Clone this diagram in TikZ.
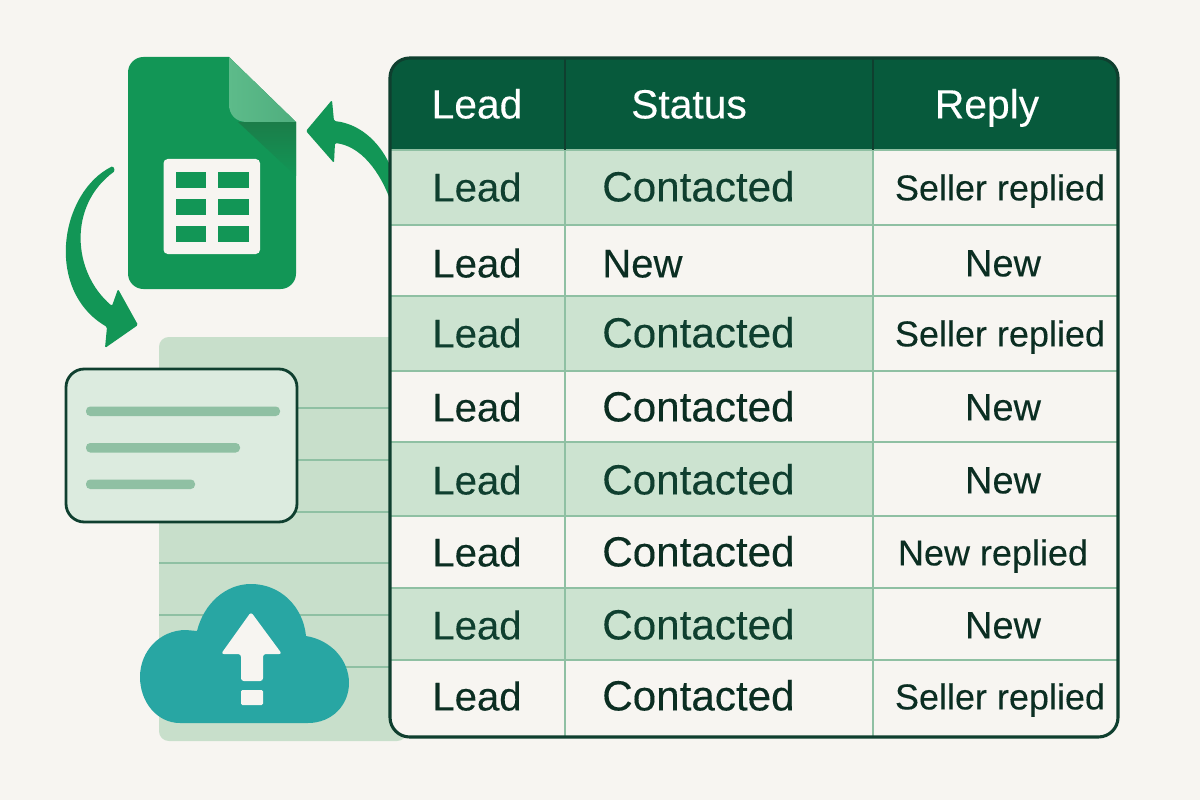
\documentclass[tikz,border=0pt]{standalone}
\usepackage{fontspec}
\setmainfont{Liberation Sans}[FakeBold=0.25]
\usetikzlibrary{calc}
\definecolor{paper}{HTML}{F7F5F1}
\definecolor{sheetgreen}{HTML}{129656}
\definecolor{foldleft}{HTML}{5DBB8A}
\definecolor{foldright}{HTML}{4FAE7E}
\definecolor{foldshade}{HTML}{1B7D49}
\definecolor{headgreen}{HTML}{075A3C}
\definecolor{inkgreen}{HTML}{0F3F2F}
\definecolor{inkdark}{HTML}{0B2E22}
\definecolor{tint}{HTML}{CCE3D0}
\definecolor{panelgreen}{HTML}{C8DFCB}
\definecolor{cardgreen}{HTML}{DCEBDF}
\definecolor{rulegreen}{HTML}{8FC0A3}
\definecolor{cloudteal}{HTML}{28A6A3}
\tikzset{
  headcell/.style={text=white, font=\fontsize{29}{32}\selectfont, inner sep=0pt, text height=20.5pt, text depth=0pt},
  bodycell/.style={font=\fontsize{28.5}{32}\selectfont, inner sep=0pt, text height=20.5pt, text depth=0pt},
  statuscell/.style={font=\fontsize{#1}{32}\selectfont, anchor=west, inner sep=0pt, text height=20.5pt, text depth=0pt},
  replycell/.style={text=inkdark, font=\fontsize{#1}{30}\selectfont, inner sep=0pt, text height=19pt, text depth=0pt},
  gridline/.style={draw=rulegreen, line width=1.8pt},
  cardbar/.style={fill=rulegreen, rounded corners=3pt}
}
\begin{document}
\begin{tikzpicture}[x=0.025cm,y=-0.025cm]
\useasboundingbox (0,0) rectangle (1200,800);
\fill[paper] (0,0) rectangle (1200,800);
% panel behind the table
\fill[panelgreen, rounded corners=7pt] (159,337) rectangle (407,741);
\foreach \y in {408,460,512,563,615,667}
  \draw[rulegreen, line width=1.8pt] (159,\y) -- (400,\y);
% sheet icon
\fill[sheetgreen] (229,57) [rounded corners=11pt] -- (128,57) -- (128,289) -- (296,289) -- (296,200) [sharp corners] -- (296,122) -- cycle;
\shade[top color=foldshade, bottom color=sheetgreen] (238,122) -- (296,122) -- (296,176) -- cycle;
\shade[left color=foldleft, right color=foldright] (229,57) -- (296,122) -- (247,122) .. controls (236,122) and (229,115) .. (229,104) -- cycle;
\fill[paper, rounded corners=3pt] (163.5,159) rectangle (260,254);
\foreach \y/\h in {172/16,199/16,226/16}
  \foreach \x/\w in {176/30,218/31}
    \fill[sheetgreen] (\x,\y) rectangle ++(\w,\h);
% curved arrows
\fill[sheetgreen, rounded corners=1pt] (113,166) .. controls (60,192) and (44,290) .. (107,327)
  -- (105,348) -- (138,325) -- (118,289) -- (112,306)
  .. controls (72,272) and (68,205) .. (115,171) -- cycle;
\fill[sheetgreen, rounded corners=1pt] (306,131) -- (332,100) -- (334,121)
  .. controls (362,124) and (382,145) .. (392,170) -- (392,205)
  .. controls (380,170) and (360,146) .. (335,143) -- (334,163) -- cycle;
% note card
\draw[draw=inkgreen, fill=cardgreen, line width=2pt, rounded corners=13pt] (66,369) rectangle (297,522);
\fill[cardbar] (86,406.5) rectangle (280,416);
\fill[cardbar] (86,443) rectangle (240,452.5);
\fill[cardbar] (86,479.5) rectangle (195,489);
% cloud
\fill[cloudteal] (197,631) .. controls (204,603) and (226,584) .. (251,584)
  .. controls (280,584) and (303,606) .. (306,636)
  .. controls (331,640) and (349,660) .. (349,683)
  .. controls (349,705) and (332,723) .. (308,723) -- (180,723)
  .. controls (157,723) and (140,702) .. (140,677)
  .. controls (140,651) and (160,630) .. (186,630) -- cycle;
\fill[paper, rounded corners=2pt] (251,612) -- (282,654) -- (263,654) -- (263,681) -- (241,681) -- (241,654) -- (221,654) -- cycle;
\fill[paper, rounded corners=1pt] (241,690) rectangle (263,705);
% table
\begin{scope}
\clip[rounded corners=14pt] (390,58) rectangle (1118,737);
\fill[paper] (390,58) rectangle (1118,737);
\fill[headgreen] (390,58) rectangle (1118,150);
\foreach \ya/\yb in {150/225,296/371,442/516,588/660}
  \fill[tint] (390,\ya) rectangle (873,\yb);
\foreach \y in {225,296,371,442,516,588,660}
  \draw[gridline] (390,\y) -- (1118,\y);
\draw[gridline] (390,150) -- (1118,150);
\draw[gridline] (565,150) -- (565,737);
\draw[gridline] (873,150) -- (873,737);
\draw[inkgreen, line width=1pt] (565,58) -- (565,150);
\draw[inkgreen, line width=1pt] (873,58) -- (873,150);
\end{scope}
\draw[inkgreen, line width=2.2pt, rounded corners=14pt] (390,58) rectangle (1118,737);
% table text
\node[headcell] (headlead) at (477,104) {Lead};
\node[headcell] (headstatus) at (689,104) {Status};
\node[headcell] (headreply) at (987,104) {Reply};
\foreach \n/\y/\c in {1/187/inkgreen,2/263/inkdark,3/333/inkgreen,4/407/inkdark,5/480/inkgreen,6/552/inkdark,7/625/inkgreen,8/696/inkdark}
  \node[bodycell, text=\c] (lead\n) at (477,\y) {Lead};
\foreach \n/\y/\t/\s/\c in {1/187/Contacted/30/inkgreen,2/263/New/28.5/inkdark,3/333/Contacted/30/inkgreen,4/407/Contacted/30/inkdark,5/480/Contacted/30/inkgreen,6/552/Contacted/30/inkdark,7/625/Contacted/30/inkgreen,8/696/Contacted/30/inkdark}
  \node[statuscell=\s, text=\c] (status\n) at (602,\y) {\t};
\foreach \n/\y/\x/\t/\s in {1/187/1000/Seller replied/25.6,2/263/1003/New/27,3/333/1000/Seller replied/25.6,4/407/1003/New/27,5/480/1003/New/27,6/552/993/New replied/25.6,7/625/1003/New/27,8/696/1000/Seller replied/25.6}
  \node[replycell=\s] (reply\n) at (\x,\y) {\t};
\end{tikzpicture}
\end{document}
